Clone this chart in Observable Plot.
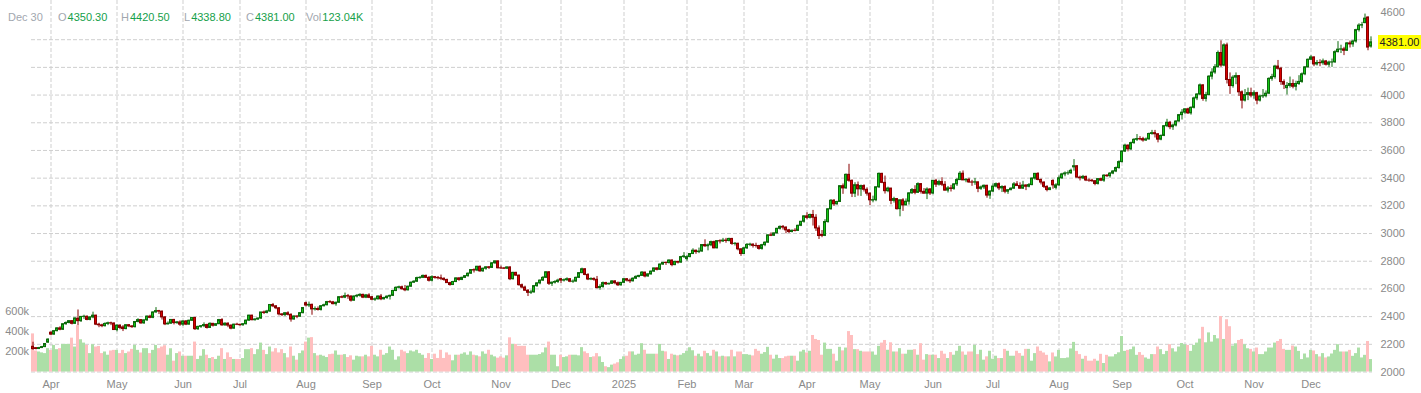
<!DOCTYPE html>
<html><head><meta charset="utf-8">
<script src="https://cdn.jsdelivr.net/npm/d3@7"></script>
<script src="https://cdn.jsdelivr.net/npm/@observablehq/plot@0.6"></script>
<style>
body{margin:0;background:#fff;}
#wrap{position:relative;width:1421px;height:393px;font-family:"Liberation Sans",Arial,sans-serif;overflow:hidden;}
#wrap svg{position:absolute;left:0;top:0;}
.item{position:absolute;top:10px;font-size:11px;line-height:14px;white-space:nowrap;z-index:2;}
.lab{color:#a2a7af}.val{color:#15a04a;margin-left:1px}
#tag{position:absolute;left:1378px;width:43px;height:14px;background:#ffff00;color:#222;font-size:11px;line-height:14px;text-align:center;z-index:2;}
</style></head><body><div id="wrap"></div>
<script>
// trading days (category axis)
const tradingDays = [
["2024-03","21 22 25 26 27 28"],
["2024-04","1 2 3 4 5 8 9 10 11 12 15 16 17 18 19 22 23 24 25 26 29 30"],
["2024-05","1 2 3 6 7 8 9 10 13 14 15 16 17 20 21 22 23 24 28 29 30 31"],
["2024-06","3 4 5 6 7 10 11 12 13 14 17 18 20 21 24 25 26 27 28"],
["2024-07","1 2 3 5 8 9 10 11 12 15 16 17 18 19 22 23 24 25 26 29 30 31"],
["2024-08","1 2 5 6 7 8 9 12 13 14 15 16 19 20 21 22 23 26 27 28 29 30"],
["2024-09","3 4 5 6 9 10 11 12 13 16 17 18 19 20 23 24 25 26 27 30"],
["2024-10","1 2 3 4 7 8 9 10 11 14 15 16 17 18 21 22 23 24 25 28 29 30 31"],
["2024-11","1 4 5 6 7 8 11 12 13 14 15 18 19 20 21 22 25 26 27 29"],
["2024-12","2 3 4 5 6 9 10 11 12 13 16 17 18 19 20 23 24 26 27 30 31"],
["2025-01","2 3 6 7 8 9 10 13 14 15 16 17 21 22 23 24 27 28 29 30 31"],
["2025-02","3 4 5 6 7 10 11 12 13 14 18 19 20 21 24 25 26 27 28"],
["2025-03","3 4 5 6 7 10 11 12 13 14 17 18 19 20 21 24 25 26 27 28 31"],
["2025-04","1 2 3 4 7 8 9 10 11 14 15 16 17 21 22 23 24 25 28 29 30"],
["2025-05","1 2 5 6 7 8 9 12 13 14 15 16 19 20 21 22 23 27 28 29 30"],
["2025-06","2 3 4 5 6 9 10 11 12 13 16 17 18 20 23 24 25 26 27 30"],
["2025-07","1 2 3 7 8 9 10 11 14 15 16 17 18 21 22 23 24 25 28 29 30 31"],
["2025-08","1 4 5 6 7 8 11 12 13 14 15 18 19 20 21 22 25 26 27 28 29"],
["2025-09","2 3 4 5 8 9 10 11 12 15 16 17 18 19 22 23 24 25 26 29 30"],
["2025-10","1 2 3 6 7 8 9 10 13 14 15 16 17 20 21 22 23 24 27 28 29 30 31"],
["2025-11","3 4 5 6 7 10 11 12 13 14 17 18 19 20 21 24 25 26 28"],
["2025-12","1 2 3 4 5 8 9 10 11 12 15 16 17 18 19 22 23 24 26 29 30"]
];
const monthLabels = ["Apr","May","Jun","Jul","Aug","Sep","Oct","Nov","Dec","2025","Feb","Mar","Apr","May","Jun","Jul","Aug","Sep","Oct","Nov","Dec"];
const priceTicks = [2000,2200,2400,2600,2800,3000,3200,3400,3600,3800,4000,4200,4400,4600];
const volumeTicks = [200,400,600];

const open = [
2182,2172,2166,2173,2180,2212,
2284,2270,2295,2315,2305,2345,2354,2367,2348,2385,2367,2398,2399,2376,2394,2407,2342,2337,2331,2347,2352,2350,
2303,2335,2322,2310,2338,2329,2324,2361,2375,2351,2373,2400,2391,2430,2440,2436,2394,2344,2349,2376,2353,2358,
2342,2365,2342,2370,2390,2309,2326,2331,2339,2318,2348,2334,2345,2375,2337,2349,2335,2313,2342,
2341,2338,2345,2371,2407,2374,2379,2386,2430,2426,2437,2484,2474,2460,2416,2411,2424,2413,2379,2401,2399,2425,
2497,2480,2485,2452,2455,2448,2475,2482,2505,2503,2490,2500,2540,2537,2548,2545,2515,2545,2550,2557,2537,2553,
2540,2522,2525,2545,2525,2534,2544,2550,2585,2608,2612,2598,2590,2616,2645,2652,2678,2680,2694,2680,
2659,2685,2680,2677,2673,2665,2642,2628,2650,2676,2665,2680,2692,2710,2736,2733,2760,2727,2746,2756,2752,2785,2799,
2749,2748,2746,2755,2670,2716,2696,2627,2610,2587,2572,2575,2620,2640,2660,2680,2720,2637,2645,2650,
2670,2660,2663,2670,2652,2653,2680,2714,2742,2701,2668,2672,2666,2606,2614,2642,2633,2637,2654,2641,2626,
2644,2670,2660,2655,2674,2687,2694,2718,2690,2705,2725,2748,2738,2776,2788,2787,2805,2772,2795,2790,2830,
2815,2830,2852,2876,2866,2870,2917,2908,2915,2938,2893,2945,2943,2949,2946,2961,2925,2926,2886,
2852,2893,2918,2920,2911,2910,2889,2916,2934,2987,2984,3001,3034,3048,3043,3023,3011,3020,3019,3056,3085,
3124,3113,3134,3114,3037,2990,2983,3083,3175,3237,3211,3228,3342,3326,3424,3381,3288,3349,3319,3343,3316,
3288,3238,3241,3334,3431,3366,3306,3325,3236,3249,3176,3240,3203,3230,3290,3314,3294,3357,3301,3288,3318,
3289,3381,3353,3372,3352,3310,3326,3322,3355,3386,3432,3384,3388,3369,3368,3370,3323,3333,3345,3274,
3303,3339,3357,3326,3336,3302,3313,3324,3355,3343,3324,3347,3338,3350,3397,3431,3387,3368,3337,3314,3380,3330,
3348,3399,3427,3434,3435,3478,3486,3404,3399,3409,3383,3382,3378,3358,3393,3382,3418,3414,3433,3448,3473,
3516,3592,3635,3608,3653,3677,3682,3682,3672,3680,3719,3725,3717,3678,3705,3775,3800,3768,3780,3809,3855,
3873,3897,3868,3908,3976,4004,4070,3972,4000,4133,4163,4201,4304,4213,4359,4109,4065,4126,4137,4020,3960,4000,4014,
3996,4014,3960,3990,3992,4010,4117,4130,4206,4190,4094,4050,4066,4080,4060,4080,4095,4150,4200,
4255,4272,4221,4232,4230,4243,4219,4235,4236,4310,4328,4330,4320,4373,4366,4387,4469,4502,4520,4560,4350.30
];
const high = [
2215,2176,2178,2185,2206,2240,
2290,2300,2320,2327,2348,2362,2370,2372,2390,2448,2400,2410,2405,2400,2432,2410,2352,2345,2355,2360,2360,2355,
2340,2340,2335,2340,2342,2335,2365,2385,2378,2375,2405,2410,2435,2465,2445,2440,2400,2362,2378,2380,2365,2370,
2370,2372,2375,2395,2395,2330,2335,2355,2345,2355,2350,2350,2380,2385,2355,2355,2340,2345,2352,
2345,2350,2375,2410,2410,2385,2390,2430,2440,2445,2485,2495,2480,2465,2420,2430,2435,2420,2405,2405,2430,2465,
2505,2505,2490,2470,2470,2480,2490,2510,2515,2510,2505,2545,2550,2570,2560,2550,2550,2560,2565,2562,2560,2565,
2545,2535,2550,2560,2540,2550,2555,2590,2615,2620,2620,2625,2620,2650,2660,2685,2690,2700,2700,2690,
2695,2690,2690,2700,2680,2670,2648,2655,2680,2680,2685,2695,2715,2740,2745,2763,2765,2750,2760,2762,2790,2801,2801,
2765,2755,2760,2760,2720,2720,2700,2635,2620,2595,2590,2625,2645,2665,2690,2725,2725,2650,2660,2670,
2675,2672,2680,2675,2665,2685,2718,2750,2745,2710,2680,2680,2690,2630,2650,2648,2642,2660,2660,2650,2645,
2675,2675,2672,2680,2695,2698,2725,2720,2710,2730,2750,2752,2780,2792,2795,2810,2810,2800,2800,2835,2862,
2840,2855,2890,2880,2895,2920,2955,2925,2945,2945,2948,2955,2965,2965,2966,2965,2935,2930,2890,
2900,2928,2930,2925,2930,2915,2922,2940,2990,3005,3005,3038,3055,3058,3048,3030,3025,3035,3060,3087,3128,
3150,3140,3167,3136,3055,3022,3100,3180,3245,3245,3233,3345,3358,3430,3500,3386,3367,3372,3350,3352,3330,
3293,3270,3336,3437,3435,3415,3335,3325,3262,3252,3240,3252,3250,3295,3325,3345,3366,3360,3325,3330,3325,
3383,3392,3385,3403,3375,3340,3348,3360,3398,3447,3452,3397,3400,3384,3398,3370,3343,3350,3348,3310,
3358,3365,3366,3345,3345,3318,3330,3368,3375,3366,3377,3352,3361,3402,3434,3439,3394,3373,3345,3333,3388,3360,
3416,3435,3445,3452,3465,3534,3490,3415,3420,3415,3395,3392,3382,3398,3400,3425,3425,3440,3455,3480,3525,
3599,3645,3640,3660,3685,3715,3700,3695,3690,3725,3745,3745,3720,3712,3780,3825,3810,3790,3815,3860,3895,
3900,3905,3915,3985,4010,4080,4075,4020,4140,4190,4220,4318,4392,4370,4375,4160,4140,4160,4140,4030,4040,4050,4050,
4030,4020,4000,4040,4030,4125,4150,4215,4250,4200,4110,4090,4130,4110,4100,4140,4160,4205,4260,
4285,4275,4250,4255,4260,4250,4245,4260,4320,4386,4360,4345,4380,4390,4395,4475,4515,4525,4585,4565,4420.50
];
const low = [
2158,2160,2162,2169,2176,2208,
2262,2266,2290,2298,2300,2338,2348,2340,2344,2335,2358,2380,2370,2370,2385,2335,2320,2320,2325,2335,2335,2300,
2290,2305,2292,2305,2320,2315,2318,2355,2345,2345,2365,2385,2385,2425,2415,2375,2335,2340,2345,2340,2345,2330,
2330,2335,2340,2365,2300,2300,2315,2320,2310,2315,2325,2330,2345,2330,2330,2320,2305,2310,2335,
2330,2330,2340,2365,2370,2368,2372,2380,2415,2420,2430,2465,2450,2405,2400,2400,2405,2360,2375,2385,2395,2420,
2470,2465,2410,2440,2440,2440,2470,2478,2495,2485,2475,2495,2530,2530,2525,2505,2512,2535,2540,2530,2530,2530,
2515,2510,2520,2515,2520,2525,2520,2545,2580,2600,2590,2580,2585,2612,2640,2648,2670,2675,2675,2650,
2650,2670,2665,2660,2655,2640,2620,2625,2645,2655,2660,2675,2685,2705,2715,2725,2720,2720,2735,2740,2748,2778,2745,
2740,2740,2740,2660,2665,2690,2620,2600,2585,2545,2560,2570,2612,2630,2655,2675,2625,2618,2635,2640,
2640,2650,2655,2645,2640,2650,2675,2710,2695,2660,2660,2655,2600,2590,2605,2625,2628,2632,2630,2618,2620,
2640,2650,2640,2650,2668,2680,2690,2680,2685,2700,2720,2730,2735,2770,2770,2780,2760,2768,2780,2785,2820,
2800,2825,2848,2850,2855,2865,2900,2875,2905,2890,2890,2925,2935,2930,2940,2915,2910,2875,2835,
2850,2885,2905,2895,2895,2880,2880,2905,2930,2978,2980,2998,3025,3025,2998,3000,3005,3012,3015,3050,3075,
3100,3105,3054,3015,2957,2970,2978,3075,3170,3195,3205,3225,3283,3320,3370,3260,3260,3270,3268,3300,3270,
3202,3222,3230,3325,3360,3285,3295,3208,3220,3170,3121,3160,3200,3205,3285,3280,3290,3285,3285,3245,3275,
3280,3333,3343,3339,3306,3293,3300,3312,3340,3385,3382,3367,3363,3341,3348,3295,3312,3318,3255,3247,
3296,3330,3310,3296,3287,3283,3310,3320,3340,3320,3319,3310,3330,3345,3385,3381,3351,3325,3301,3310,3320,3315,
3340,3390,3410,3420,3428,3450,3400,3380,3390,3375,3370,3370,3345,3350,3375,3370,3405,3400,3425,3440,3465,
3510,3585,3590,3600,3645,3665,3670,3660,3665,3675,3710,3690,3655,3670,3700,3765,3750,3745,3770,3805,3820,
3860,3860,3855,3900,3960,3995,3955,3950,3995,4110,4150,4195,4200,4205,4080,4005,4050,4075,3990,3900,3950,3960,3980,
3970,3930,3950,3975,3980,4005,4100,4115,4180,4070,4040,4000,4050,4045,4030,4070,4085,4140,4195,
4250,4205,4210,4205,4215,4210,4200,4200,4230,4305,4300,4285,4315,4340,4345,4375,4455,4480,4515,4320,4338.80
];
const close = [
2165,2166,2173,2180,2202,2234,
2270,2295,2315,2305,2345,2354,2367,2348,2387,2367,2398,2399,2376,2394,2407,2342,2337,2331,2347,2352,2350,2303,
2335,2318,2310,2338,2329,2324,2361,2375,2351,2373,2400,2391,2430,2440,2436,2394,2344,2349,2376,2353,2358,2342,
2365,2342,2370,2390,2309,2326,2331,2339,2318,2348,2334,2345,2375,2337,2349,2335,2313,2342,2341,
2338,2345,2371,2407,2374,2379,2386,2430,2426,2437,2484,2474,2460,2416,2411,2424,2413,2379,2401,2399,2425,2462,
2480,2485,2452,2455,2448,2475,2482,2505,2503,2490,2500,2540,2537,2548,2545,2515,2545,2550,2557,2537,2553,2536,
2522,2525,2545,2525,2534,2544,2550,2585,2608,2612,2598,2590,2616,2645,2652,2678,2680,2694,2680,2659,
2685,2680,2677,2673,2665,2642,2628,2650,2676,2665,2680,2692,2710,2736,2733,2760,2727,2746,2756,2752,2785,2799,2749,
2748,2746,2755,2670,2716,2696,2627,2610,2587,2572,2575,2620,2640,2660,2680,2720,2637,2645,2650,2660,
2660,2663,2670,2652,2653,2680,2714,2742,2701,2668,2672,2666,2606,2614,2642,2633,2637,2654,2641,2626,2644,
2670,2660,2655,2674,2687,2694,2718,2690,2705,2725,2748,2738,2776,2788,2787,2805,2772,2795,2790,2830,2835,
2830,2852,2876,2866,2870,2917,2908,2915,2938,2893,2945,2943,2949,2946,2961,2925,2926,2886,2852,
2893,2918,2920,2911,2910,2889,2916,2934,2987,2984,3001,3034,3048,3043,3023,3011,3020,3019,3056,3085,3124,
3113,3134,3114,3037,2982,2983,3083,3175,3237,3211,3228,3342,3326,3424,3381,3288,3349,3319,3343,3316,3288,
3240,3241,3334,3431,3366,3306,3325,3236,3249,3176,3240,3203,3230,3290,3314,3294,3357,3301,3288,3318,3289,
3381,3353,3372,3352,3310,3326,3322,3355,3386,3432,3384,3388,3369,3368,3370,3323,3333,3345,3274,3303,
3339,3357,3326,3336,3302,3313,3324,3355,3343,3324,3347,3338,3350,3397,3431,3387,3368,3337,3314,3326,3348,3348,
3399,3427,3434,3435,3453,3486,3404,3399,3409,3383,3382,3378,3358,3393,3382,3418,3414,3433,3448,3473,3516,
3592,3635,3608,3653,3677,3682,3680,3672,3680,3719,3725,3717,3678,3705,3775,3800,3768,3780,3809,3855,3873,
3897,3868,3908,3976,4004,4070,3972,4000,4133,4163,4201,4304,4213,4359,4109,4065,4126,4137,4020,3960,4000,4014,3996,
4014,3960,3990,3992,4010,4117,4130,4206,4190,4094,4075,4066,4080,4060,4080,4095,4150,4200,4255,
4272,4221,4232,4230,4243,4219,4235,4236,4310,4328,4330,4320,4373,4366,4387,4469,4502,4505,4552,4343,4381.00
];
// volume in thousands
const volume = [
377,208,198,189,182,231,
214,263,221,231,273,273,273,335,247,458,319,286,263,182,270,247,253,182,198,166,208,214,
214,182,214,182,198,224,263,214,188,231,231,182,214,263,231,247,260,166,230,107,182,198,
156,156,156,156,296,124,156,221,166,133,143,124,156,231,124,189,143,124,124,
124,133,221,221,231,172,221,286,214,172,247,198,231,189,221,182,140,247,156,117,182,208,
296,335,340,182,159,166,156,143,172,176,208,166,166,172,143,160,117,156,150,150,166,150,
254,166,150,215,166,182,247,215,117,150,215,199,182,208,199,215,182,166,134,182,
124,176,134,215,134,189,166,111,166,166,176,189,166,199,166,160,150,199,176,215,166,150,137,
150,137,160,338,273,273,254,254,254,166,166,166,166,173,189,238,296,166,166,52,
166,143,150,166,166,166,160,241,199,182,143,150,182,150,94,52,43,68,78,91,124,
150,156,199,199,166,176,280,215,176,176,176,176,273,205,199,124,176,166,160,166,182,
205,240,210,156,176,150,205,182,156,215,198,150,156,150,150,215,150,198,198,
172,172,166,159,224,205,176,192,244,166,127,166,133,133,150,156,156,156,107,198,215,
189,205,361,322,312,166,286,224,224,176,107,244,209,237,400,361,221,221,205,198,198,
198,198,166,254,286,312,215,289,198,198,231,176,176,215,215,221,166,280,117,172,166,
166,166,133,205,176,133,192,166,205,254,198,166,198,198,263,172,215,117,150,205,
127,156,133,133,224,205,156,156,205,182,156,224,224,107,182,247,205,188,165,100,188,149,
214,133,133,139,228,293,204,172,126,155,107,107,126,107,175,84,165,149,149,172,190,
351,204,214,221,247,165,192,165,139,126,172,172,247,221,172,204,270,230,198,247,282,
270,263,204,263,286,325,442,289,387,296,361,328,549,322,517,448,257,279,312,322,270,230,224,
198,237,172,172,198,237,237,286,302,322,224,214,214,257,247,204,123,178,139,
214,208,172,149,182,139,149,178,214,270,198,198,198,214,155,182,237,139,165,302,123.04
];

const dates = tradingDays.flatMap(([m, s]) => s.split(" ").map(d => m + "-" + d.padStart(2, "0")));
const n = dates.length;
[open, high, low, close, volume].forEach((a, k) => { if (a.length !== n) console.error("length mismatch", k, a.length, n); });
const rows = dates.map((date, i) => ({date, open: open[i], high: high[i], low: low[i], close: close[i], volume: volume[i]}));

const monthStarts = tradingDays.slice(1).map(([m, s]) => m + "-" + s.split(" ")[0].padStart(2, "0"));
const monthLabelOf = new Map(monthStarts.map((d, i) => [d, monthLabels[i]]));
const sepStart = monthStarts[monthLabels.indexOf("Sep")];

const base = 2000;     // bottom of price axis = zero volume
const volK = 0.73;     // price units per 1k volume
const isUp = d => d.close >= d.open;
const gridStyle = {stroke: "#cfcfcf", strokeOpacity: 1, strokeDasharray: "4,2"};
const last = rows[n - 1];
// the last-price tag hides the axis label it sits on
const rightTicks = priceTicks.filter(t => Math.abs(t - last.close) * 360 / 2600 > 12);

const chart = Plot.plot({
  width: 1421, height: 393,
  marginTop: 11.5, marginBottom: 21.5, marginLeft: 31, marginRight: 49,
  style: {fontFamily: "Liberation Sans, Arial, sans-serif", fontSize: "11px", background: "transparent", overflow: "visible"},
  x: {type: "band", domain: dates, padding: 0, axis: null},
  y: {domain: [2000, 4600], axis: null},
  marks: [
    Plot.gridY({ticks: priceTicks.filter(t => t !== 4600), ...gridStyle}),
    Plot.ruleY([4600], {x1: sepStart, ...gridStyle}),
    Plot.gridX({ticks: monthStarts, insetTop: -11.5, ...gridStyle}),
    Plot.barY(rows, {x: "date", y1: base, y2: d => base + d.volume * volK, fill: d => isUp(d) ? "#acdfa7" : "#ffbfbf"}),
    Plot.ruleX(rows, {x: "date", y1: "low", y2: "high", stroke: d => isUp(d) ? "#0c6a0c" : "#880000", strokeWidth: 1}),
    Plot.barY(rows, {x: "date", y1: "open", y2: "close", insetLeft: 0.5, insetRight: 0.5,
      fill: d => isUp(d) ? "#14c814" : "#d80000", stroke: d => isUp(d) ? "#0c6a0c" : "#880000", strokeWidth: 1}),
    Plot.axisX({ticks: monthStarts, tickFormat: d => monthLabelOf.get(d), tickSize: 0, tickPadding: 8.5, fill: "#8a8a8a", label: null}),
    Plot.axisY({anchor: "right", ticks: rightTicks, tickFormat: d => String(d), tickSize: 0, tickPadding: 8, fill: "#8a8a8a", label: null}),
    Plot.axisY({anchor: "left", ticks: volumeTicks.map(v => base + v * volK), tickFormat: d => Math.round((d - base) / volK) + "k", tickSize: 0, tickPadding: 2.5, fill: "#8a8a8a", label: null})
  ]
});
const wrap = document.getElementById("wrap");
wrap.appendChild(chart);

// header (last bar)
const fmtDate = d3.timeFormat("%b %d");
const hdrItems = [
  {left: 8, lab: fmtDate(d3.timeParse("%Y-%m-%d")(last.date)), val: ""},
  {left: 58, lab: "O", val: last.open.toFixed(2)},
  {left: 121, lab: "H", val: last.high.toFixed(2)},
  {left: 184, lab: "L", val: last.low.toFixed(2)},
  {left: 246, lab: "C", val: last.close.toFixed(2)},
  {left: 306, lab: "Vol", val: last.volume.toFixed(2) + "K"}
];
for (const it of hdrItems) {
  const s = document.createElement("span");
  s.className = "item";
  s.style.left = it.left + "px";
  s.innerHTML = `<span class="lab">${it.lab}</span>` + (it.val ? `<span class="val">${it.val}</span>` : "");
  wrap.appendChild(s);
}
// last price tag on the right axis
const tag = document.createElement("div");
tag.id = "tag";
tag.textContent = last.close.toFixed(2);
tag.style.top = (chart.scale("y").apply(last.close) - 7) + "px";
wrap.appendChild(tag);
</script>
</body></html>
